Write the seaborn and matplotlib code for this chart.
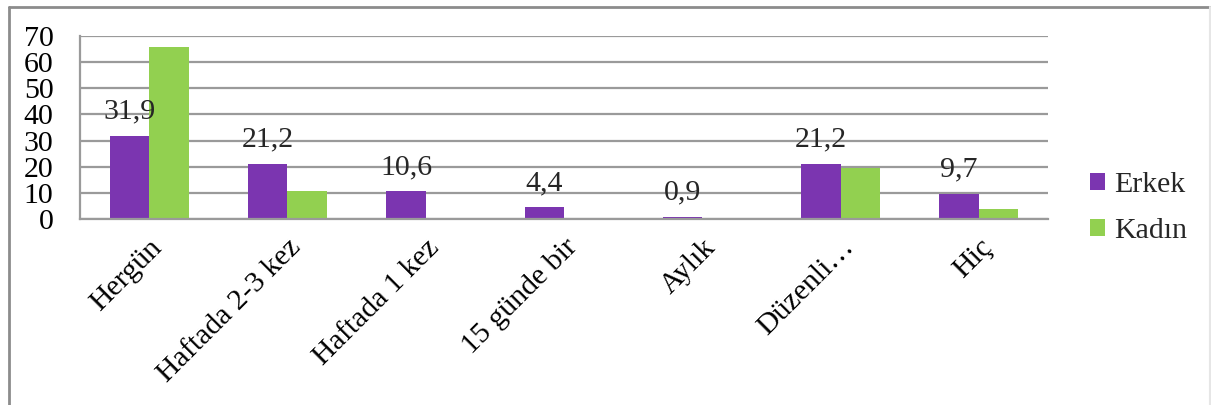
import matplotlib
matplotlib.use('Agg')
import matplotlib.pyplot as plt
from matplotlib.lines import Line2D
import seaborn as sns
import pandas as pd

# values
categories = ['Hergün', 'Haftada 2-3 kez', 'Haftada 1 kez', '15 günde bir', 'Aylık', 'Düzenli…', 'Hiç']
erkek = [31.9, 21.2, 10.6, 4.4, 0.9, 21.2, 9.7]
kadin = [65.7, 10.7, 0, 0, 0, 19.6, 3.7]
series = ['Erkek', 'Kadın']
colors = ['#7B35B0', '#92D050']
yticks = [0, 10, 20, 30, 40, 50, 60, 70]

df = pd.DataFrame({
    'kategori': categories * 2,
    'deger': erkek + kadin,
    'cinsiyet': [series[0]] * len(categories) + [series[1]] * len(categories),
})

sns.set_style('white')
plt.rcParams['font.family'] = ['Liberation Serif', 'DejaVu Serif']
FS = 21.5
GRAY = '#9A9A9A'

W, H = 1211, 405
fig = plt.figure(figsize=(W / 100, H / 100), dpi=100)
ax = fig.add_axes([80 / W, 1 - 219 / H, 968 / W, 183 / H])

sns.barplot(data=df, x='kategori', y='deger', hue='cinsiyet', order=categories,
            hue_order=series, palette=colors, saturation=1, width=0.57, gap=0,
            linewidth=0, ax=ax)

# data labels only on the Erkek series
ax.bar_label(ax.containers[0], labels=[f'{v:.1f}'.replace('.', ',') for v in erkek],
             padding=8, fontsize=FS)

ax.set_xlim(-0.5, len(categories) - 0.5)
ax.set_ylim(0, 70)
ax.set_yticks(yticks)
ax.set_xlabel('')
ax.set_ylabel('')

ax.set_xticks(range(len(categories)))
ax.set_xticklabels(categories, rotation=45, ha='right', rotation_mode='anchor', fontsize=FS)
ax.set_xticks([i - 0.5 for i in range(len(categories) + 1)], minor=True)
ax.tick_params(axis='x', which='major', length=0, pad=11)
ax.tick_params(axis='x', which='minor', length=8, width=1.5, color=GRAY, direction='out')
ax.tick_params(axis='y', length=8, width=1.5, color=GRAY, direction='out', pad=11, labelsize=FS)
ax.tick_params(axis='both', labelcolor='black')

ax.yaxis.grid(True, color=GRAY, linewidth=1.6)
ax.set_axisbelow(True)
for side in ['top', 'right']:
    ax.spines[side].set_visible(False)
for side in ['left', 'bottom']:
    ax.spines[side].set_color(GRAY)
    ax.spines[side].set_linewidth(1.6)

handles, labels = ax.get_legend_handles_labels()
ax.legend(handles, labels, loc='center left', bbox_to_anchor=(1090 / W, 1 - 208 / H),
          bbox_transform=fig.transFigure, frameon=False, fontsize=FS,
          handlelength=0.5, handleheight=0.5, handletextpad=0.3,
          labelspacing=0.65, borderpad=0, borderaxespad=0)

# outer chart border
fig.add_artist(Line2D([8.5 / W, 8.5 / W], [0, 1 - 6.5 / H], transform=fig.transFigure,
                      color='#8C8C8C', lw=2))
fig.add_artist(Line2D([8.5 / W, 1209.5 / W], [1 - 6.5 / H, 1 - 6.5 / H],
                      transform=fig.transFigure, color='#8C8C8C', lw=2))
fig.add_artist(Line2D([1209.5 / W, 1209.5 / W], [0, 1 - 6.5 / H], transform=fig.transFigure,
                      color='#E6E6E6', lw=1.5))

fig.savefig('out.png', dpi=100)
